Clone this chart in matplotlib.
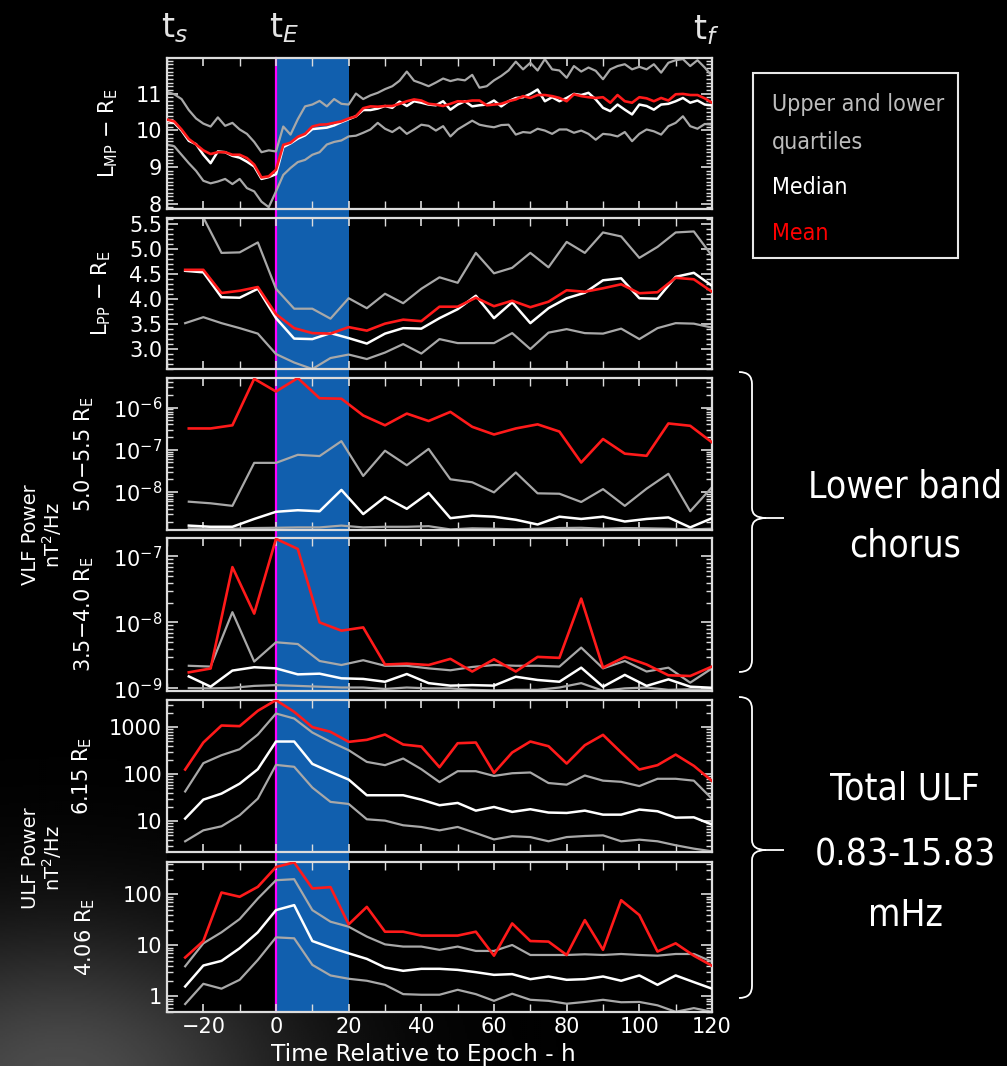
"""
Superposed-epoch panels: magnetopause / plasmapause location, VLF chorus power
and ULF power relative to the storm epoch (mean, median, quartiles).
"""
import numpy as np
import matplotlib
matplotlib.use("Agg")
import matplotlib.pyplot as plt
import matplotlib.transforms as mtransforms
from matplotlib.ticker import MultipleLocator, LogLocator, FuncFormatter, NullFormatter
from matplotlib.patches import Rectangle, PathPatch
from matplotlib.path import Path
from matplotlib.lines import Line2D
from matplotlib import font_manager

# ---------------------------------------------------------------- data
# L_MP, 2 h resolution, -30 .. 120 h
HRS_MP = list(range(-30, 121, 2))
MP_MEAN = [10.29, 10.24, 10.02, 9.76, 9.61, 9.45, 9.35, 9.40, 9.40, 9.33, 9.33, 9.24, 9.06, 8.71, 8.74, 8.92,
           9.60, 9.66, 9.82, 9.90, 10.10, 10.15, 10.16, 10.20, 10.24, 10.32, 10.38, 10.60, 10.65, 10.64, 10.66,
           10.66, 10.72, 10.79, 10.84, 10.81, 10.72, 10.70, 10.66, 10.72, 10.79, 10.78, 10.81, 10.81, 10.68,
           10.70, 10.72, 10.79, 10.84, 10.93, 10.88, 10.96, 10.96, 10.93, 10.88, 10.79, 10.98, 10.93, 10.90,
           10.88, 10.90, 10.75, 10.96, 10.79, 10.75, 10.90, 10.87, 10.79, 10.88, 10.81, 10.98, 10.99, 10.96,
           10.96, 10.87, 10.75]
MP_MED = [10.26, 10.20, 9.99, 9.71, 9.62, 9.33, 9.10, 9.42, 9.40, 9.30, 9.25, 9.14, 9.01, 8.67, 8.72, 8.80,
          9.54, 9.64, 9.77, 9.86, 10.03, 10.05, 10.07, 10.13, 10.22, 10.30, 10.38, 10.55, 10.55, 10.59, 10.66,
          10.61, 10.78, 10.66, 10.79, 10.75, 10.70, 10.68, 10.79, 10.56, 10.70, 10.79, 10.65, 10.68, 10.70,
          10.81, 10.65, 10.79, 10.88, 10.90, 10.99, 11.11, 10.79, 10.90, 10.79, 10.88, 10.99, 10.96, 11.02,
          10.84, 10.61, 10.52, 10.70, 10.56, 10.43, 10.70, 10.66, 10.56, 10.70, 10.72, 10.79, 10.88, 10.75,
          10.81, 10.70, 10.68]
MP_UQ = [11.05, 10.98, 10.85, 10.55, 10.32, 10.18, 10.10, 10.35, 10.12, 10.20, 10.02, 9.90, 9.68, 9.40, 9.45, 9.42,
         10.10, 9.88, 10.30, 10.65, 10.70, 10.80, 10.65, 10.85, 10.72, 10.70, 11.00, 10.85, 10.95, 11.02, 11.12,
         11.20, 11.35, 11.60, 11.35, 11.28, 11.20, 11.30, 11.41, 11.34, 11.39, 11.36, 11.51, 11.16, 11.20,
         11.36, 11.48, 11.63, 11.87, 11.66, 11.84, 11.63, 11.94, 11.66, 11.63, 11.43, 11.75, 11.60, 11.71,
         11.62, 11.39, 11.66, 11.75, 11.80, 11.66, 11.73, 11.66, 11.80, 11.57, 11.84, 11.91, 11.94, 11.75,
         11.91, 11.71, 11.48]
MP_LQ = [9.61, 9.56, 9.33, 9.10, 8.89, 8.62, 8.55, 8.60, 8.67, 8.53, 8.67, 8.42, 8.33, 8.05, 7.90, 8.33,
         8.78, 8.97, 9.13, 9.19, 9.33, 9.40, 9.61, 9.68, 9.72, 9.83, 9.85, 9.93, 10.02, 10.20, 10.04,
         9.95, 10.08, 9.90, 10.02, 10.15, 10.12, 9.99, 10.11, 9.83, 10.02, 10.14, 10.26, 10.15, 10.11,
         10.08, 10.14, 10.15, 9.88, 9.95, 9.93, 10.04, 9.99, 9.90, 10.02, 10.02, 9.93, 9.99, 9.90,
         9.74, 9.90, 9.88, 9.83, 9.95, 9.70, 9.90, 10.02, 9.97, 9.88, 10.11, 10.20, 10.38, 10.11,
         10.04, 10.17, 10.15]

# L_PP and ULF, 5 h resolution, -25 .. 120 h
HRS_5 = list(range(-25, 121, 5))
PP_MEAN = [4.59, 4.59, 4.125, 4.17, 4.245, 3.70, 3.42, 3.32, 3.31, 3.44, 3.37, 3.51, 3.59, 3.56, 3.85,
           3.85, 4.03, 3.86, 3.97, 3.84, 3.95, 4.18, 4.15, 4.22, 4.30, 4.12, 4.14, 4.43, 4.40, 4.15]
PP_MED = [4.57, 4.54, 4.04, 4.03, 4.21, 3.62, 3.21, 3.20, 3.32, 3.22, 3.11, 3.31, 3.42, 3.41, 3.62,
          3.80, 4.07, 3.62, 3.94, 3.52, 3.82, 4.02, 4.13, 4.38, 4.42, 4.02, 4.01, 4.45, 4.53, 4.27]
PP_UQ = [5.72, 5.64, 4.93, 4.94, 5.14, 4.21, 3.81, 3.81, 3.61, 4.02, 3.82, 4.11, 3.92, 4.21, 4.44,
         4.33, 4.93, 4.52, 4.63, 4.93, 4.64, 5.15, 4.93, 5.34, 5.26, 4.83, 5.05, 5.34, 5.36, 4.87]
PP_LQ = [3.52, 3.64, 3.52, 3.42, 3.31, 2.90, 2.73, 2.60, 2.82, 2.89, 2.80, 2.93, 3.10, 2.91, 3.20,
         3.12, 3.12, 3.12, 3.32, 3.00, 3.33, 3.40, 3.32, 3.31, 3.41, 3.20, 3.42, 3.52, 3.51, 3.43]

# VLF chorus, 6 h resolution, -24 .. 120 h
HRS_6 = list(range(-24, 121, 6))
V55_MEAN = [3.2e-7, 3.2e-7, 3.8e-7, 4.8e-6, 2.4e-6, 5.0e-6, 1.66e-6, 1.62e-6, 6.5e-7, 3.8e-7, 7.2e-7, 4.8e-7,
            7.9e-7, 3.5e-7, 2.3e-7, 3.2e-7, 4.0e-7, 2.7e-7, 5.0e-8, 1.8e-7, 8.1e-8, 7.2e-8, 4.2e-7, 3.7e-7, 1.5e-7]
V55_MED = [1.6e-9, 1.5e-9, 1.5e-9, 2.3e-9, 3.4e-9, 3.7e-9, 3.5e-9, 1.12e-8, 3.0e-9, 7.6e-9, 4.0e-9, 9.5e-9,
           2.4e-9, 2.75e-9, 2.6e-9, 2.2e-9, 1.7e-9, 2.6e-9, 2.3e-9, 2.6e-9, 2.0e-9, 2.3e-9, 2.5e-9, 1.45e-9, 2.4e-9]
V55_UQ = [5.9e-9, 5.4e-9, 4.7e-9, 4.9e-8, 4.9e-8, 7.6e-8, 7.1e-8, 1.6e-7, 2.4e-8, 9.5e-8, 4.3e-8, 1.05e-7,
          2.0e-8, 1.7e-8, 9.8e-9, 2.9e-8, 9.3e-9, 9.1e-9, 5.8e-9, 1.17e-8, 4.7e-9, 1.2e-8, 2.7e-8, 3.5e-9, 1.3e-8]
V55_LQ = [1.38e-9, 1.35e-9, 1.35e-9, 1.4e-9, 1.42e-9, 1.45e-9, 1.45e-9, 1.6e-9, 1.45e-9, 1.5e-9, 1.5e-9, 1.55e-9,
          1.3e-9, 1.38e-9, 1.35e-9, 1.3e-9, 1.35e-9, 1.4e-9, 1.42e-9, 1.35e-9, 1.4e-9, 1.38e-9, 1.35e-9, 1.3e-9, 1.35e-9]

V40_MEAN = [1.75e-9, 2.0e-9, 6.9e-8, 1.36e-8, 1.85e-7, 1.3e-7, 1.0e-8, 7.5e-9, 8.4e-9, 2.3e-9, 2.37e-9, 2.26e-9,
            2.8e-9, 1.8e-9, 2.76e-9, 1.8e-9, 3.0e-9, 2.9e-9, 2.3e-8, 2.06e-9, 3.0e-9, 2.3e-9, 1.58e-9, 1.54e-9, 2.14e-9]
V40_MED = [1.52e-9, 1.06e-9, 1.86e-9, 2.09e-9, 2.01e-9, 1.63e-9, 1.67e-9, 1.42e-9, 1.39e-9, 1.26e-9, 1.65e-9, 1.2e-9,
           1.1e-9, 1.12e-9, 1.1e-9, 1.5e-9, 1.34e-9, 1.26e-9, 2.06e-9, 1.06e-9, 1.6e-9, 1.09e-9, 1.37e-9, 1.06e-9, 1.02e-9]
V40_UQ = [2.2e-9, 2.14e-9, 1.43e-8, 2.55e-9, 5.0e-9, 4.7e-9, 2.6e-9, 2.26e-9, 2.67e-9, 2.2e-9, 2.2e-9, 2.01e-9,
          1.88e-9, 2.11e-9, 2.26e-9, 2.2e-9, 2.2e-9, 2.14e-9, 4.15e-9, 2.01e-9, 2.6e-9, 1.8e-9, 2.06e-9, 1.22e-9, 2.01e-9]
V40_LQ = [1.01e-9, 1.0e-9, 1.02e-9, 1.09e-9, 1.12e-9, 1.09e-9, 1.06e-9, 1.03e-9, 1.03e-9, 0.98e-9, 1.03e-9, 1.0e-9,
          1.0e-9, 0.95e-9, 0.93e-9, 0.95e-9, 0.95e-9, 1.03e-9, 1.2e-9, 0.92e-9, 1.0e-9, 1.03e-9, 0.95e-9, 0.97e-9, 0.95e-9]

U615_MEAN = [126, 473, 1090, 1055, 2240, 3780, 2130, 1005, 800, 489, 540, 700, 429, 389, 141,
             457, 473, 107, 290, 497, 395, 169, 415, 689, 290, 126, 156, 262, 151, 72]
U615_MED = [11.4, 28.8, 38.7, 63, 128, 497, 497, 166, 112, 77, 35.7, 35.7, 35.7, 28.8, 21.9,
            24.5, 16.8, 20.1, 15.8, 18.0, 15.3, 15.0, 16.8, 13.8, 13.8, 17.7, 16.3, 11.9, 12.1, 8.5]
U615_UQ = [43, 172, 254, 341, 700, 1960, 1535, 773, 489, 325, 183, 156, 216, 128, 68,
           116, 116, 92, 105, 109, 65, 60, 94, 73, 69, 56, 80, 80, 73, 30]
U615_LQ = [3.74, 6.4, 7.8, 13.4, 30.3, 158, 144, 52, 25.8, 23.3, 11.0, 10.3, 8.2, 7.55, 6.4,
           7.55, 5.6, 4.1, 4.8, 4.6, 3.74, 4.6, 4.85, 5.0, 3.74, 4.05, 3.74, 3.08, 2.61, 2.29]

U406_MEAN = [5.8, 12.2, 109, 90, 141, 345, 425, 131, 139, 25.9, 57, 18.6, 18.6, 15.6, 15.6,
             15.6, 18.6, 6.3, 27, 12.2, 11.9, 6.5, 31.4, 8.2, 77, 39.4, 7.6, 11.0, 6.3, 4.0]
U406_MED = [1.57, 4.04, 4.98, 8.8, 18.1, 49.3, 61.7, 12.2, 9.1, 7.0, 5.45, 3.69, 3.18, 3.48, 3.48,
            3.32, 2.99, 2.65, 2.74, 2.18, 2.46, 2.12, 2.18, 2.46, 2.03, 2.58, 1.69, 2.58, 1.91, 1.42]
U406_UQ = [3.9, 11.0, 18.1, 32.9, 83, 190, 199, 49.3, 29.2, 23.3, 14.9, 10.5, 9.5, 9.5, 8.2,
           9.5, 7.8, 7.8, 10.2, 6.5, 6.5, 6.5, 6.7, 6.5, 6.8, 6.5, 6.3, 6.8, 6.8, 4.8]
U406_LQ = [0.71, 1.77, 1.42, 2.12, 5.2, 14.4, 13.8, 4.16, 2.58, 2.22, 2.03, 1.69, 1.11, 1.08, 1.08,
           1.35, 1.11, 0.82, 1.13, 0.86, 0.82, 0.72, 0.78, 0.86, 0.77, 0.78, 0.67, 0.50, 0.59, 0.50]

# labelled y ticks of each panel, top to bottom
YTICKS = [[8, 9, 10, 11], [3.0, 3.5, 4.0, 4.5, 5.0, 5.5], [1e-8, 1e-7, 1e-6], [1e-9, 1e-8, 1e-7],
          [10, 100, 1000], [1, 10, 100]]

EPOCH_WINDOW = (0, 20)   # shaded main-phase window, h

# ---------------------------------------------------------------- style
W, H = 1007, 1066
RED, WHITE, GREY = "#ff1a1a", "#ffffff", "#a8a8a8"
FRAME = "#dcdcdc"
BAND = "#115fae"

# slide annotations were set in a condensed face; take the narrowest one available
names = {f.name for f in font_manager.fontManager.ttflist}
condensed_files = [f for f in font_manager.fontManager.ttflist
                   if "condensed" in str(f.stretch).lower() or "Condensed" in f.fname or "Narrow" in f.fname]
if "Liberation Sans Narrow" in names:
    SLIDE_FONT = dict(family="Liberation Sans Narrow")
elif condensed_files:
    SLIDE_FONT = dict(family=condensed_files[0].name, stretch="condensed")
elif "Roboto" in names:
    SLIDE_FONT = dict(family="Roboto")
else:
    SLIDE_FONT = dict(family="DejaVu Sans")

fig = plt.figure(figsize=(W / 100, H / 100), dpi=100, facecolor="black")


def fy(py):
    return 1 - py / H


# faint glow bottom-left, as on the slide background
bg = fig.add_axes([0, 0, 1, 1], zorder=-5)
bg.axis("off")
yy, xx = np.mgrid[0:H:2, 0:W:2]
glow = 0.30 * np.exp(-((xx - 60) ** 2 / (2 * 170 ** 2) + (yy - 1080) ** 2 / (2 * 110 ** 2)))
bg.imshow(glow, cmap="gray", vmin=0, vmax=1, extent=[0, 1, 0, 1], aspect="auto")

LEFT, RIGHT = 167, 712
PANELS = [(58, 209), (218, 369), (378, 530), (538, 691), (700, 852), (862, 1012)]
axes = []
for top, bot in PANELS:
    ax = fig.add_axes([LEFT / W, fy(bot), (RIGHT - LEFT) / W, (bot - top) / H])
    ax.set_facecolor("none")
    axes.append(ax)

# black plotting region behind the transparent axes
fig.add_artist(Rectangle((LEFT / W, fy(PANELS[-1][1])), (RIGHT - LEFT) / W,
                         (PANELS[-1][1] - PANELS[0][0]) / H, transform=fig.transFigure,
                         facecolor="black", edgecolor="none", zorder=-3))


def draw(ax, x, mean, med, uq, lq):
    ax.plot(x, lq, color=GREY, lw=1.6, zorder=2)
    ax.plot(x, uq, color=GREY, lw=1.6, zorder=2)
    ax.plot(x, med, color=WHITE, lw=1.8, zorder=3)
    ax.plot(x, mean, color=RED, lw=1.9, zorder=4)


draw(axes[0], HRS_MP, MP_MEAN, MP_MED, MP_UQ, MP_LQ)
draw(axes[1], HRS_5, PP_MEAN, PP_MED, PP_UQ, PP_LQ)
draw(axes[2], HRS_6, V55_MEAN, V55_MED, V55_UQ, V55_LQ)
draw(axes[3], HRS_6, V40_MEAN, V40_MED, V40_UQ, V40_LQ)
draw(axes[4], HRS_5, U615_MEAN, U615_MED, U615_UQ, U615_LQ)
draw(axes[5], HRS_5, U406_MEAN, U406_MED, U406_UQ, U406_LQ)

YLIMS = [(7.85, 11.97), (2.6, 5.63), (10 ** -8.9, 10 ** -5.3), (10 ** -9.04, 10 ** -6.72),
         (10 ** 0.345, 10 ** 3.58), (10 ** -0.305, 10 ** 2.636)]
YLABELS = [r"L$_{\mathregular{MP}}$ $-$ R$_{\mathregular{E}}$",
           r"L$_{\mathregular{PP}}$ $-$ R$_{\mathregular{E}}$",
           r"5.0$-$5.5 R$_{\mathregular{E}}$", r"3.5$-$4.0 R$_{\mathregular{E}}$",
           r"6.15 R$_{\mathregular{E}}$", r"4.06 R$_{\mathregular{E}}$"]
YLAB_X = [120, 113, 96, 96, 94, 97]

for i, ax in enumerate(axes):
    ax.set_xlim(-30, 120)
    if i >= 2:
        ax.set_yscale("log")
        ax.yaxis.set_minor_locator(LogLocator(base=10, subs=np.arange(2, 10), numticks=12))
        ax.yaxis.set_minor_formatter(NullFormatter())
    else:
        ax.yaxis.set_minor_locator(MultipleLocator(0.1))
    ax.set_yticks(YTICKS[i])
    if i >= 4:
        ax.yaxis.set_major_formatter(FuncFormatter(lambda v, p: f"{v:g}"))
    elif i == 1:
        ax.yaxis.set_major_formatter(FuncFormatter(lambda v, p: f"{v:.1f}"))
    ax.set_ylim(*YLIMS[i])
    ax.xaxis.set_major_locator(MultipleLocator(20))
    ax.xaxis.set_minor_locator(MultipleLocator(10))
    ax.tick_params(which="both", direction="in", top=True, right=True, color=FRAME,
                   labelcolor="white", labelsize=15)
    ax.tick_params(which="major", length=8, width=1.2)
    ax.tick_params(which="minor", length=4, width=1.0)
    ax.tick_params(axis="x", which="both", length=6)
    ax.tick_params(axis="x", labelbottom=(i == len(axes) - 1))
    for s in ax.spines.values():
        s.set_color(FRAME)
        s.set_linewidth(1.6)
    ax.set_ylabel(YLABELS[i], color="white", fontsize=15)
    ax.yaxis.set_label_coords((YLAB_X[i] - LEFT) / (RIGHT - LEFT), 0.5)

# shaded window and epoch line, continuous through the panel gaps
blend = mtransforms.blended_transform_factory(axes[-1].transData, fig.transFigure)
y_lo, y_hi = fy(PANELS[-1][1]), fy(PANELS[0][0])
fig.add_artist(Rectangle((EPOCH_WINDOW[0], y_lo), EPOCH_WINDOW[1] - EPOCH_WINDOW[0], y_hi - y_lo,
                         transform=blend, facecolor=BAND, edgecolor="none", zorder=-1))
fig.add_artist(Line2D([0, 0], [y_lo, y_hi], transform=blend, color="#ff00ff", lw=1.6, zorder=-0.5))

# epoch markers above the top panel
tkw = dict(color="#e4e4e4", fontsize=24, ha="center", va="center")
fig.text(175 / W, fy(28), r"t$_s$", **tkw)
fig.text(284 / W, fy(28), r"t$_E$", **tkw)
fig.text(706 / W, fy(30), r"t$_f$", **tkw)

# outer power labels
for yc, name in [(535, "VLF Power"), (858, "ULF Power")]:
    fig.text(30 / W, fy(yc), name, color="white", fontsize=14, rotation=90, ha="center", va="center")
    fig.text(52 / W, fy(yc), r"nT$^2$/Hz", color="white", fontsize=14, rotation=90,
             ha="center", va="center")

renderer = fig.canvas.get_renderer()


def fit_width(texts, ref, width_px):
    """Scale a group of texts so that the reference one is width_px wide."""
    w = ref.get_window_extent(renderer).width
    for t in texts:
        t.set_fontsize(t.get_fontsize() * width_px / w)


# x title, a little left of the axis centre as on the original
xt = fig.text(423 / W, fy(1054), "Time Relative to Epoch - h", color="white", fontsize=15,
              ha="center", va="center")
fit_width([xt], xt, 306)

# legend box
fig.add_artist(Rectangle((753 / W, fy(258)), 205 / W, 185 / H, transform=fig.transFigure,
                         facecolor="none", edgecolor="#e8e8e8", lw=1.5))
lkw = dict(fontsize=19, ha="left", va="center", **SLIDE_FONT)
leg = [fig.text(772 / W, fy(104), "Upper and lower", color="#bdbdbd", **lkw),
       fig.text(772 / W, fy(142), "quartiles", color="#bdbdbd", **lkw),
       fig.text(772 / W, fy(188), "Median", color="white", **lkw),
       fig.text(772 / W, fy(233), "Mean", color="#ff0000", **lkw)]
fit_width(leg, leg[0], 172)

# curly braces with annotations
px2fig = mtransforms.Affine2D().scale(1 / W, -1 / H).translate(0, 1) + fig.transFigure


def brace(top, bot, mid, x0=739, xs=752, xt=784):
    verts = [(x0, top), (xs, top), (xs, top + 12),
             (xs, mid - 10), (xs, mid), (xs + 14, mid),
             (xt, mid),
             (xs + 14, mid), (xs, mid), (xs, mid + 10),
             (xs, bot - 12), (xs, bot), (x0, bot)]
    codes = [Path.MOVETO, Path.CURVE3, Path.CURVE3,
             Path.LINETO, Path.CURVE3, Path.CURVE3,
             Path.LINETO,
             Path.MOVETO, Path.CURVE3, Path.CURVE3,
             Path.LINETO, Path.CURVE3, Path.CURVE3]
    fig.add_artist(PathPatch(Path(verts, codes), transform=px2fig, fill=False,
                             edgecolor="white", lw=1.3))


brace(372, 672, 518)
brace(697, 998, 850)

bkw = dict(fontsize=30, color="white", ha="center", va="center", **SLIDE_FONT)
big = [fig.text(905 / W, fy(487), "Lower band", **bkw),
       fig.text(905 / W, fy(546), "chorus", **bkw),
       fig.text(905 / W, fy(789), "Total ULF", **bkw),
       fig.text(905 / W, fy(855), "0.83-15.83", **bkw),
       fig.text(905 / W, fy(915), "mHz", **bkw)]
fit_width(big, big[0], 194)

fig.savefig("out.png", dpi=100, facecolor="black")
plt.close(fig)
